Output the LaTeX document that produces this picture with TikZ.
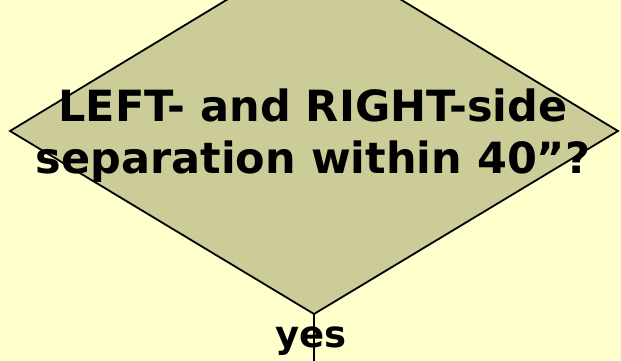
\documentclass[tikz,border=0pt]{standalone}
\usepackage{fontspec}
\setmainfont{DejaVu Sans}
\definecolor{bgc}{HTML}{FFFFCC}
\definecolor{dia}{HTML}{CCCC99}
\begin{document}
\begin{tikzpicture}[x=1pt,y=-1pt,
  lbl/.style={font=\bfseries\fontsize{43}{52}\selectfont, align=center, inner sep=0pt},
  ylbl/.style={font=\bfseries\fontsize{37}{40}\selectfont, inner sep=0pt}]
\fill[bgc] (0,0) rectangle (621,361);
\useasboundingbox (0,0) rectangle (621,361);
\begin{scope}
\clip (0,0) rectangle (621,361);
\filldraw[fill=dia, draw=black, line width=1.8pt] (314,-53) -- (618,131) -- (314,314) -- (10,131) -- cycle;
\coordinate (bot) at (314,314);
\node[lbl] (q) at (313,136) {LEFT- and RIGHT-side\\separation within 40”?};
\node[ylbl, anchor=base] (yes) at (311,347) {yes};
\coordinate (end) at (314,361);
\draw[line width=2.2pt] (bot) -- (end);
\end{scope}
\end{tikzpicture}
\end{document}
